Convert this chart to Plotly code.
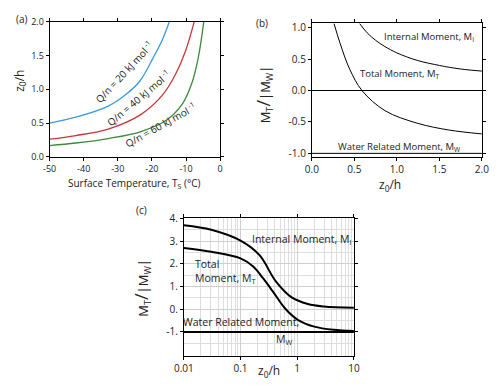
import numpy as np
import plotly.graph_objects as go

# (a) z0/h vs surface temperature for three Q/n values
ts_20 = [-50, -42.3, -32.8, -27.2, -23.4, -19.6, -16.8, -14.9]
zh_20 = [0.50, 0.586, 0.75, 0.94, 1.13, 1.47, 1.75, 2.0]
ts_40 = [-50, -42.3, -32.8, -23.4, -16.8, -13.0, -10.2, -7.6]
zh_40 = [0.26, 0.314, 0.41, 0.62, 0.92, 1.23, 1.56, 2.0]
ts_60 = [-50, -42.3, -32.8, -23.4, -15.8, -11.1, -8.3, -6.4, -4.8]
zh_60 = [0.166, 0.204, 0.27, 0.37, 0.54, 0.78, 1.09, 1.47, 2.0]

# (b) moments vs z0/h (linear)
zb_int = [0.56, 0.65, 0.75, 0.86, 1.0, 1.24, 1.5, 1.62, 1.8, 2.0]
mb_int = [1.07, 0.92, 0.80, 0.70, 0.60, 0.48, 0.40, 0.37, 0.335, 0.31]
zb_tot = [0.26, 0.33, 0.445, 0.59, 0.86, 1.24, 1.62, 2.0]
mb_tot = [1.07, 0.76, 0.34, 0.0, -0.32, -0.52, -0.63, -0.69]
zb_wat = [0.0, 2.0]
mb_wat = [-1.0, -1.0]

# (c) moments vs z0/h (log)
zc_int = [0.01, 0.0304, 0.1, 0.216, 0.416, 0.80, 1.54, 2.95, 10]
mc_int = [3.70, 3.50, 3.02, 2.38, 1.24, 0.52, 0.23, 0.12, 0.06]
zc_tot = [0.01, 0.0304, 0.1, 0.167, 0.247, 0.365, 0.617, 1.04, 2.0, 4.38, 10]
mc_tot = [2.70, 2.53, 2.24, 1.88, 1.38, 0.81, 0.02, -0.48, -0.77, -0.91, -0.96]
zc_wat = [0.01, 10]
mc_wat = [-1.0, -1.0]

font = "Open Sans"
fig = go.Figure()

# panel a
for xs, ys, col in [(ts_20, zh_20, "#3c9be0"), (ts_40, zh_40, "#c83737"), (ts_60, zh_60, "#3d8a3d")]:
    fig.add_trace(go.Scatter(x=xs, y=ys, mode="lines", line=dict(color=col, width=1.3, shape="spline"),
                             xaxis="x", yaxis="y", showlegend=False))

# panel b
fig.add_trace(go.Scatter(x=zb_int, y=mb_int, mode="lines", line=dict(color="black", width=1, shape="spline"),
                         xaxis="x2", yaxis="y2", showlegend=False))
fig.add_trace(go.Scatter(x=zb_tot, y=mb_tot, mode="lines", line=dict(color="black", width=1, shape="spline"),
                         xaxis="x2", yaxis="y2", showlegend=False))
fig.add_trace(go.Scatter(x=zb_wat, y=mb_wat, mode="lines", line=dict(color="black", width=1),
                         xaxis="x2", yaxis="y2", showlegend=False))

# panel c
fig.add_trace(go.Scatter(x=zc_int, y=mc_int, mode="lines", line=dict(color="black", width=2, shape="spline"),
                         xaxis="x3", yaxis="y3", showlegend=False))
fig.add_trace(go.Scatter(x=zc_tot, y=mc_tot, mode="lines", line=dict(color="black", width=2, shape="spline"),
                         xaxis="x3", yaxis="y3", showlegend=False))
fig.add_trace(go.Scatter(x=zc_wat, y=mc_wat, mode="lines", line=dict(color="black", width=2),
                         xaxis="x3", yaxis="y3", showlegend=False))

ax = dict(showline=True, linecolor="black", linewidth=1, mirror="ticks", ticks="outside",
          ticklen=3, tickcolor="black", showgrid=False, zeroline=False,
          tickfont=dict(family=font, size=9, color="#222"))

a_xt = [-50, -40, -30, -20, -10, 0]
a_yt = [0.0, 0.5, 1.0, 1.5, 2.0]
b_xt = [0.0, 0.5, 1.0, 1.5, 2.0]
b_yt = [-1.0, -0.5, 0.0, 0.5, 1.0]
c_xt = [0.01, 0.1, 1, 10]
c_yt = [-1, 0, 1, 2, 3, 4]
c_xminor = [m * d for d in (0.01, 0.1, 1) for m in range(2, 10)]
c_yminor = [-1.5, -0.5, 0.5, 1.5, 2.5, 3.5]

fig.update_layout(
    width=500, height=389, margin=dict(l=0, r=0, t=0, b=0),
    plot_bgcolor="white", paper_bgcolor="white",
    xaxis=dict(ax, domain=[0.082, 0.435], range=[-50, 0], tickvals=a_xt,
               ticktext=[str(v) for v in a_xt], anchor="y"),
    yaxis=dict(ax, domain=[0.6033, 0.9632], range=[0, 2], tickvals=a_yt,
               ticktext=[f"{v:.1f}" for v in a_yt], anchor="x"),
    xaxis2=dict(ax, domain=[0.625, 0.977], range=[0, 2], tickvals=b_xt,
                ticktext=[f"{v:.1f}" for v in b_xt], anchor="y2",
                tickfont=dict(family=font, size=10, color="#222")),
    yaxis2=dict(ax, domain=[0.604, 0.959], range=[-1.05, 1.07], tickvals=b_yt,
                ticktext=[f"{v:.1f}" for v in b_yt], anchor="x2",
                zeroline=True, zerolinecolor="black", zerolinewidth=1,
                tickfont=dict(family=font, size=10, color="#222")),
    xaxis3=dict(ax, domain=[0.36, 0.712], type="log", range=[-2, 1], tickvals=c_xt,
                ticktext=["0.01", "0.1", "1", "10"], anchor="y3",
                showgrid=True, gridcolor="#cfcfcf", gridwidth=1,
                minor=dict(tickvals=c_xminor, showgrid=True, gridcolor="#dedede", gridwidth=1, ticks=""),
                tickfont=dict(family=font, size=10, color="#222")),
    yaxis3=dict(ax, domain=[0.0728, 0.4388], range=[-2.05, 4.0], tickvals=c_yt,
                ticktext=[f"{v}." for v in c_yt], anchor="x3",
                showgrid=True, gridcolor="#cfcfcf", gridwidth=1,
                minor=dict(tickvals=c_yminor, showgrid=True, gridcolor="#dedede", ticks=""),
                tickfont=dict(family=font, size=10, color="#222")),
)

ann = []
def txt(x, y, t, size=10, xref="paper", yref="paper", angle=0, xanchor="center", align="center"):
    ann.append(dict(x=x, y=y, xref=xref, yref=yref, text=t, showarrow=False, textangle=angle,
                    xanchor=xanchor, yanchor="middle", align=align,
                    font=dict(family=font, size=size, color="#222")))

# panel labels
txt(0.025, 0.972, "(a)", 10)
txt(0.522, 0.961, "(b)", 10)
txt(0.272, 0.462, "(c)", 10)

# axis titles
txt(0.257, 0.531, "Surface Temperature, T<sub>S</sub> (°C)", 10)
txt(0.02, 0.805, "z<sub>0</sub>/h", 12, angle=-90)
txt(0.787, 0.527, "z<sub>0</sub>/h", 12)
txt(0.524, 0.77, "M<sub>T</sub><span style='font-size:18px'>/</span>|M<sub>W</sub>|", 13, angle=-90)
txt(0.537, 0.032, "z<sub>0</sub>/h", 12)
txt(0.272, 0.255, "M<sub>T</sub><span style='font-size:18px'>/</span>|M<sub>W</sub>|", 13, angle=-90)

# curve labels a
txt(-28.1, 1.25, "Q/n = 20 kJ mol<sup> -1</sup>", 10, "x", "y", -47)
txt(-23.9, 0.87, "Q/n = 40 kJ mol<sup> -1</sup>", 10, "x", "y", -40)
txt(-17.5, 0.47, "Q/n = 60 kJ mol<sup> -1</sup>", 10, "x", "y", -29)

# curve labels b
txt(1.38, 0.85, "Internal Moment, M<sub>I</sub>", 9.5, "x2", "y2")
txt(1.04, 0.265, "Total Moment, M<sub>T</sub>", 9.5, "x2", "y2")
txt(1.03, -0.90, "Water Related Moment, M<sub>W</sub>", 9.5, "x2", "y2")

# curve labels c (log axis -> log10 positions)
txt(np.log10(1.19), 3.07, "Internal Moment, M<sub>I</sub>", 10.5, "x3", "y3")
txt(np.log10(0.0142), 1.65, "Total<br>Moment, M<sub>T</sub>", 10.5, "x3", "y3", xanchor="left", align="left")
txt(np.log10(0.1015), -0.555, "Water Related Moment,", 10.5, "x3", "y3")
txt(np.log10(0.577), -1.34, "M<sub>W</sub>", 10.5, "x3", "y3")

fig.update_layout(annotations=ann)
# page body has a default margin; drop it so the figure sits at the top-left corner
fig.write_html("out.html", config={"displayModeBar": False},
               post_script="document.body.style.margin='0';")
